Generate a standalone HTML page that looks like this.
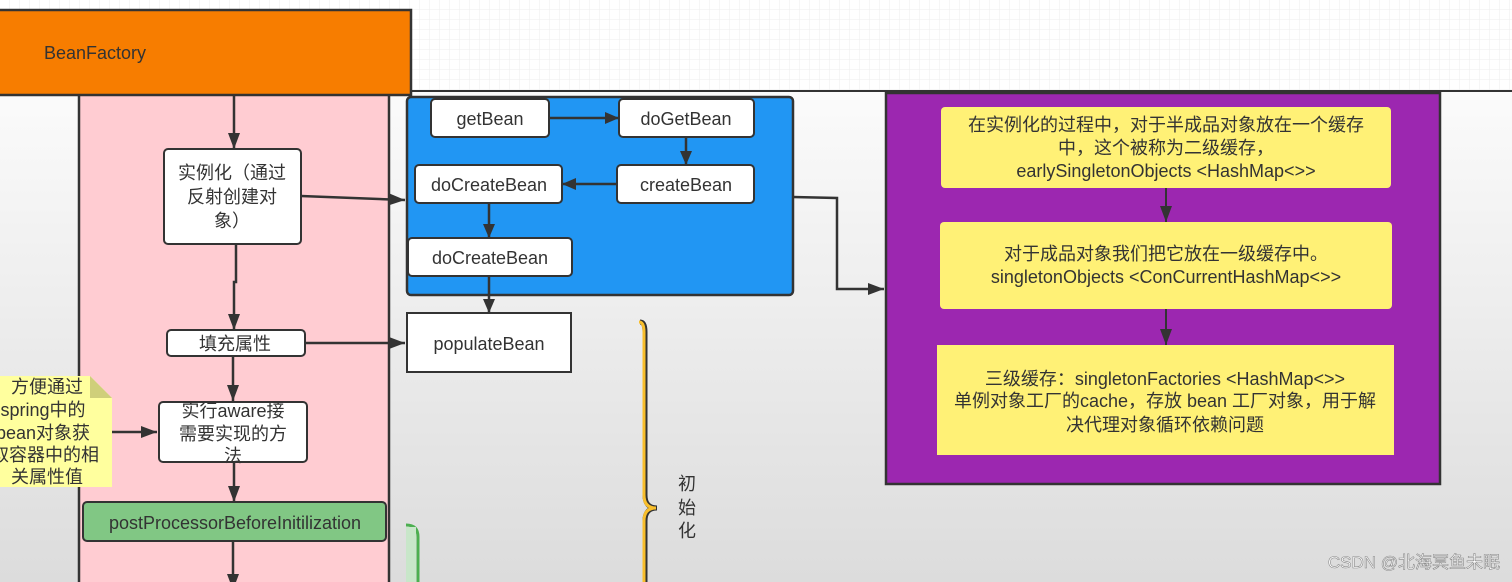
<!DOCTYPE html>
<html><head><meta charset="utf-8"><style>
html,body{margin:0;padding:0;width:1512px;height:582px;overflow:hidden}
text{font-family:"Liberation Sans","Noto Sans CJK SC",sans-serif;fill:#333;font-size:18px}
</style></head><body>
<svg width="1512" height="582" xmlns="http://www.w3.org/2000/svg">
<defs>
<linearGradient id="bg" x1="0" y1="0" x2="0" y2="1"><stop offset="0" stop-color="#fbfbfb"/><stop offset="1" stop-color="#dcdcdc"/></linearGradient>
<pattern id="grid" width="10" height="10" patternUnits="userSpaceOnUse" x="0" y="0"><path d="M10 0V10M0 10H10" stroke="#eeeeee" stroke-width="1" fill="none"/></pattern>
<marker id="a" markerWidth="14" markerHeight="12" refX="14" refY="6" orient="auto" markerUnits="userSpaceOnUse"><path d="M0,0 L14,6 L0,12 z" fill="#333"/></marker>
<marker id="b" markerWidth="16" markerHeight="12" refX="16" refY="6" orient="auto" markerUnits="userSpaceOnUse"><path d="M0,0 L16,6 L0,12 z" fill="#333"/></marker>
</defs>
<rect width="1512" height="582" fill="#fff"/>
<rect x="0" y="0" width="1512" height="91" fill="url(#grid)"/>
<rect x="0" y="91" width="1512" height="491" fill="url(#bg)"/>
<line x1="410" y1="91" x2="1512" y2="91" stroke="#333" stroke-width="2"/>
<rect x="79" y="91" width="310" height="500" fill="#ffccd2" stroke="#333" stroke-width="2.5"/>
<rect x="-2" y="10" width="413" height="85" fill="#f77d00" stroke="#333" stroke-width="2.5"/>
<text x="44" y="59">BeanFactory</text>
<rect x="407" y="97" width="386" height="198" rx="4" fill="#2196f3" stroke="#333" stroke-width="2.5"/>
<rect x="431" y="99" width="118" height="38" rx="4" fill="#fff" stroke="#333" stroke-width="2"/>
<text x="490" y="125" text-anchor="middle">getBean</text>
<rect x="619" y="99" width="135" height="38" rx="4" fill="#fff" stroke="#333" stroke-width="2"/>
<text x="686" y="125" text-anchor="middle">doGetBean</text>
<rect x="617" y="165" width="137" height="38" rx="4" fill="#fff" stroke="#333" stroke-width="2"/>
<text x="686" y="191" text-anchor="middle">createBean</text>
<rect x="415" y="165" width="147" height="38" rx="4" fill="#fff" stroke="#333" stroke-width="2"/>
<text x="489" y="191" text-anchor="middle">doCreateBean</text>
<rect x="408" y="238" width="164" height="38" rx="4" fill="#fff" stroke="#333" stroke-width="2"/>
<text x="490" y="264" text-anchor="middle">doCreateBean</text>
<rect x="407" y="313" width="164" height="59" fill="#fff" stroke="#333" stroke-width="2"/>
<text x="489" y="350" text-anchor="middle">populateBean</text>
<g stroke="#333" stroke-width="2.5" fill="none">
<line x1="549" y1="118" x2="619" y2="118" marker-end="url(#a)"/>
<line x1="686" y1="137" x2="686" y2="165" marker-end="url(#a)"/>
<line x1="617" y1="184" x2="562" y2="184" marker-end="url(#a)"/>
<line x1="489" y1="203" x2="489" y2="238" marker-end="url(#a)"/>
<line x1="489" y1="276" x2="489" y2="313" marker-end="url(#a)"/>
<polyline points="793,197 837,198 837,289 884,289" marker-end="url(#b)"/>
<line x1="234" y1="95" x2="234" y2="149" marker-end="url(#b)"/>
<line x1="301" y1="196" x2="405" y2="200" marker-end="url(#b)"/>
<polyline points="236,244 236,282 234,282 234,330" marker-end="url(#b)"/>
<line x1="305" y1="343" x2="405" y2="343" marker-end="url(#b)"/>
<line x1="233" y1="356" x2="233" y2="401" marker-end="url(#b)"/>
<line x1="112" y1="432" x2="157" y2="432" marker-end="url(#b)"/>
<line x1="234" y1="462" x2="234" y2="502" marker-end="url(#b)"/>
<line x1="233" y1="542" x2="233" y2="590" marker-end="url(#b)"/>
</g>
<rect x="164" y="149" width="137" height="95" rx="4" fill="#fff" stroke="#333" stroke-width="2"/>
<text x="232" y="179" text-anchor="middle">实例化（通过</text>
<text x="232" y="203" text-anchor="middle">反射创建对</text>
<text x="232" y="227" text-anchor="middle">象）</text>
<rect x="167" y="330" width="138" height="26" rx="4" fill="#fff" stroke="#333" stroke-width="2"/>
<text x="235" y="350" text-anchor="middle">填充属性</text>
<rect x="159" y="402" width="148" height="60" rx="4" fill="#fff" stroke="#333" stroke-width="2"/>
<text x="233" y="417" text-anchor="middle">实行aware接</text>
<text x="233" y="440" text-anchor="middle">需要实现的方</text>
<text x="233" y="462" text-anchor="middle">法</text>
<rect x="83" y="502" width="303" height="39" rx="4" fill="#81c784" stroke="#333" stroke-width="2"/>
<text x="235" y="529" text-anchor="middle">postProcessorBeforeInitilization</text>
<path d="M0,376 H90 L112,398 V487 H0 Z" fill="#ffff9e"/>
<path d="M90,376 V398 H112 Z" fill="#cfcf7a"/>
<text x="47" y="393" text-anchor="middle">方便通过</text>
<text x="43" y="416" text-anchor="middle">spring中的</text>
<text x="43" y="439" text-anchor="middle">bean对象获</text>
<text x="45" y="461" text-anchor="middle">取容器中的相</text>
<text x="47" y="483" text-anchor="middle">关属性值</text>
<path d="M406,525 Q418,525 418,537 V590" stroke="#4caf50" stroke-width="3" fill="none"/>
<rect x="406" y="527" width="10" height="60" fill="#c8e6c9"/>
<path d="M640,322 Q645,322 645,332 V495 Q645,508 657,508 Q645,508 645,521 V590" stroke="#333" stroke-width="5" fill="none"/>
<path d="M640,322 Q645,322 645,332 V495 Q645,508 657,508 Q645,508 645,521 V590" stroke="#f9bf2c" stroke-width="3" fill="none" transform="translate(-1,0)"/>
<text x="687" y="490" text-anchor="middle">初</text>
<text x="687" y="514" text-anchor="middle">始</text>
<text x="687" y="537" text-anchor="middle">化</text>
<rect x="886" y="93" width="554" height="391" fill="#9c27b0" stroke="#333" stroke-width="2.5"/>
<rect x="941" y="107" width="450" height="81" rx="4" fill="#fff176"/>
<text x="1166" y="131" text-anchor="middle">在实例化的过程中，对于半成品对象放在一个缓存</text>
<text x="1166" y="154" text-anchor="middle">中，这个被称为二级缓存，</text>
<text x="1166" y="177" text-anchor="middle">earlySingletonObjects  &lt;HashMap&lt;&gt;&gt;</text>
<rect x="940" y="222" width="452" height="87" rx="4" fill="#fff176"/>
<text x="1166" y="260" text-anchor="middle">对于成品对象我们把它放在一级缓存中。</text>
<text x="1166" y="283" text-anchor="middle">singletonObjects   &lt;ConCurrentHashMap&lt;&gt;&gt;</text>
<rect x="937" y="345" width="457" height="110" fill="#fff176"/>
<text x="1165" y="385" text-anchor="middle">三级缓存：singletonFactories  &lt;HashMap&lt;&gt;&gt;</text>
<text x="1165" y="407" text-anchor="middle">单例对象工厂的cache，存放 bean 工厂对象，用于解</text>
<text x="1165" y="431" text-anchor="middle">决代理对象循环依赖问题</text>
<g stroke="#333" stroke-width="2" fill="none">
<line x1="1166" y1="188" x2="1166" y2="222" marker-end="url(#b)"/>
<line x1="1166" y1="309" x2="1166" y2="345" marker-end="url(#b)"/>
</g>
<text x="1500" y="568" text-anchor="end" style="fill:#fff;stroke:#888;stroke-width:0.6px;font-size:17px">CSDN @北海冥鱼未眠</text>
</svg>
</body></html>
